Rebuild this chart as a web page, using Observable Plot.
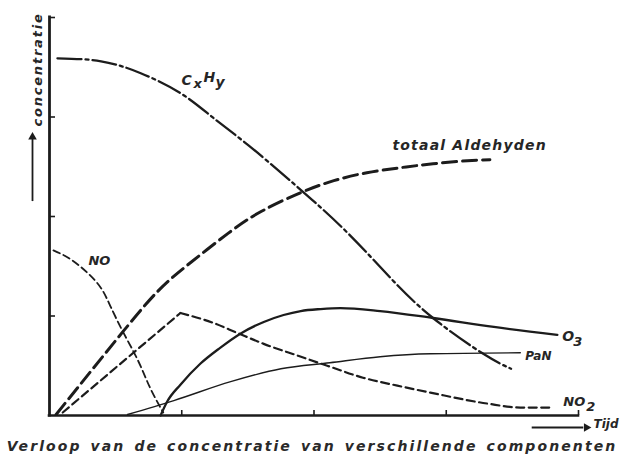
<!DOCTYPE html>
<html>
<head>
<meta charset="utf-8">
<script src="https://cdn.jsdelivr.net/npm/d3@7"></script>
<script src="https://cdn.jsdelivr.net/npm/@observablehq/plot@0.6"></script>
<style>
  html, body { margin: 0; padding: 0; background: #ffffff; }
  #chart { width: 624px; height: 456px; position: relative; overflow: hidden; }
  .caption {
    width: 624px; height: 20px; line-height: 20px; text-align: center;
    font-family: "DejaVu Sans", sans-serif; font-style: italic; font-weight: bold;
    font-size: 14px; letter-spacing: 2.1px; word-spacing: 2px; color: #2a2a2a;
    white-space: nowrap;
  }
</style>
</head>
<body>
<div id="chart"></div>
<script>
// ---- data (time "Tijd" vs concentration, arbitrary units) ----
const xDomain = [0, 4];
const yDomain = [0, 4];
const xTicks = [1, 2, 3, 4];
const yTicks = [1, 2, 3, 4];

const cxhyT = [0.06, 0.39, 0.69, 0.99, 1.24, 1.50, 1.82, 2.22, 2.58, 2.90, 3.28, 3.49];
const cxhyC = [3.59, 3.56, 3.44, 3.24, 2.99, 2.72, 2.36, 1.88, 1.38, 0.98, 0.62, 0.47];

const aldT = [0.05, 0.31, 0.56, 0.82, 1.07, 1.35, 1.60, 1.90, 2.15, 2.40, 2.65, 2.90, 3.16, 3.33];
const aldC = [0.01, 0.44, 0.85, 1.25, 1.54, 1.83, 2.05, 2.24, 2.36, 2.44, 2.49, 2.53, 2.56, 2.57];

const noT = [0.03, 0.16, 0.29, 0.39, 0.46, 0.56, 0.67, 0.76, 0.86];
const noC = [1.66, 1.57, 1.43, 1.28, 1.10, 0.83, 0.55, 0.28, 0.03];

const no2T = [0.10, 0.99, 1.24, 1.42, 1.62, 1.88, 2.10, 2.37, 2.63, 2.88, 3.31, 3.56, 3.81];
const no2C = [0.03, 1.03, 0.93, 0.83, 0.72, 0.60, 0.50, 0.38, 0.30, 0.23, 0.12, 0.08, 0.08];

const o3T = [0.84, 0.89, 0.99, 1.14, 1.29, 1.44, 1.62, 1.77, 1.90, 2.05, 2.20, 2.50, 2.90, 3.36, 3.84];
const o3C = [0.00, 0.14, 0.31, 0.52, 0.68, 0.82, 0.94, 1.01, 1.05, 1.07, 1.08, 1.05, 0.98, 0.89, 0.81];

const panT = [0.59, 0.94, 1.37, 1.75, 2.12, 2.50, 2.88, 3.56];
const panC = [0.01, 0.15, 0.34, 0.47, 0.53, 0.59, 0.62, 0.63];

const xLabel = "Tijd";
const yLabel = "concentratie";
const captionText = "Verloop van de concentratie van verschillende componenten";

// ---- build ----
const pts = (ts, cs) => ts.map((t, i) => ({t, c: cs[i]}));
const cxhy = pts(cxhyT, cxhyC);
const ald = pts(aldT, aldC);
const no = pts(noT, noC);
const no2 = pts(no2T, no2C);
const o3 = pts(o3T, o3C);
const pan = pts(panT, panC);

const ink = "#1c1c1c";
const txt = "#262626";
const W = 624, H = 436;
const mL = 49, mR = 46, mT = 17, mB = 21;
const frameW = W - mL - mR, frameH = H - mT - mB;

const font = {fontFamily: "DejaVu Sans", fontStyle: "italic", fontWeight: "bold", fill: txt, textAnchor: "start"};
const last = a => [a[a.length - 1]];
const curve = "monotone-x";

const svg = Plot.plot({
  width: W, height: H,
  marginLeft: mL, marginRight: mR, marginTop: mT, marginBottom: mB,
  x: {domain: xDomain, axis: null},
  y: {domain: yDomain, axis: null},
  style: {background: "#ffffff", fontFamily: "DejaVu Sans", overflow: "visible"},
  marks: [
    // axes
    Plot.ruleX([xDomain[0]], {stroke: ink, strokeWidth: 2.8, strokeLinecap: "square"}),
    Plot.ruleY([yDomain[0]], {stroke: ink, strokeWidth: 2.6, strokeLinecap: "square"}),
    Plot.tickX(xTicks, {x: d => d, stroke: ink, strokeWidth: 1.6, insetTop: frameH - 5}),
    Plot.tickY(yTicks, {y: d => d, stroke: ink, strokeWidth: 1.6, insetRight: frameW - 6}),

    // curves
    Plot.line(cxhy, {x: "t", y: "c", curve: "natural", stroke: ink, strokeWidth: 2.3, strokeDasharray: "24,4,3,4"}),
    Plot.line(ald, {x: "t", y: "c", curve: "natural", stroke: ink, strokeWidth: 3, strokeDasharray: "14,6"}),
    Plot.line(no, {x: "t", y: "c", curve: "natural", stroke: ink, strokeWidth: 1.8, strokeDasharray: "7,4"}),
    Plot.line(no2.slice(0, 2), {x: "t", y: "c", curve: "linear", stroke: ink, strokeWidth: 2.2, strokeDasharray: "8,4.5"}),
    Plot.line(no2.slice(1), {x: "t", y: "c", curve, stroke: ink, strokeWidth: 2.2, strokeDasharray: "8,4.5"}),
    Plot.line(o3, {x: "t", y: "c", curve, stroke: ink, strokeWidth: 2.3}),
    Plot.line(pan, {x: "t", y: "c", curve, stroke: ink, strokeWidth: 1.4}),

    // series labels
    Plot.text([cxhy[3]], {x: "t", y: "c", text: () => "C", dx: 1, dy: -13, fontSize: 14, ...font}),
    Plot.text([cxhy[3]], {x: "t", y: "c", text: () => "x", dx: 13, dy: -9, fontSize: 13, ...font}),
    Plot.text([cxhy[3]], {x: "t", y: "c", text: () => "H", dx: 23, dy: -16, fontSize: 14, ...font}),
    Plot.text([cxhy[3]], {x: "t", y: "c", text: () => "y", dx: 35, dy: -11, fontSize: 14, ...font}),
    Plot.text(last(ald), {x: "t", y: "c", text: () => "totaal Aldehyden", dx: 57, dy: -14, fontSize: 14, ...font, textAnchor: "end"}),
    Plot.text([no[0]], {x: "t", y: "c", text: () => "NO", dx: 35, dy: 10, fontSize: 13, ...font}),
    Plot.text(last(o3), {x: "t", y: "c", text: () => "O", dx: 5, dy: 2, fontSize: 14, ...font}),
    Plot.text(last(o3), {x: "t", y: "c", text: () => "3", dx: 16, dy: 7, fontSize: 13, ...font}),
    Plot.text(last(pan), {x: "t", y: "c", text: () => "PaN", dx: 5, dy: 3, fontSize: 12, ...font}),
    Plot.text(last(no2), {x: "t", y: "c", text: () => "NO", dx: 10, dy: -6, fontSize: 13, ...font}),
    Plot.text(last(no2), {x: "t", y: "c", text: () => "2", dx: 33, dy: -1, fontSize: 13, ...font}),

    // x-axis label with arrow
    Plot.ruleY([yDomain[0]], {x1: 3.65, x2: 4.04, dy: 12, stroke: ink, strokeWidth: 1.8}),
    Plot.dot([yDomain[0]], {x: 4.06, y: d => d, dy: 12, symbol: "triangle", r: 3.2, rotate: 90, fill: ink, stroke: "none"}),
    Plot.text([xLabel], {frameAnchor: "bottom-right", text: d => d, dx: 15, dy: 12, fontSize: 12, ...font}),

    // y-axis label with arrow
    Plot.ruleX([xDomain[0]], {y1: 2.15, y2: 2.78, dx: -17, stroke: ink, strokeWidth: 1.8}),
    Plot.dot([xDomain[0]], {x: d => d, y: 2.80, dx: -17, symbol: "triangle", r: 3.2, fill: ink, stroke: "none"}),
    Plot.text([yLabel], {frameAnchor: "top-left", text: d => d, dx: -17, dy: 52, rotate: -90, fontSize: 13, ...font, textAnchor: "middle"})
  ]
});

const spacing = {"totaal Aldehyden": "1.2px", "concentratie": "1.8px"};
d3.select(svg).selectAll("text").each(function() {
  const s = spacing[this.textContent];
  if (s) this.style.letterSpacing = s;
});

const chart = document.getElementById("chart");
chart.appendChild(svg);
const cap = document.createElement("div");
cap.className = "caption";
cap.textContent = captionText;
chart.appendChild(cap);
</script>
</body>
</html>
